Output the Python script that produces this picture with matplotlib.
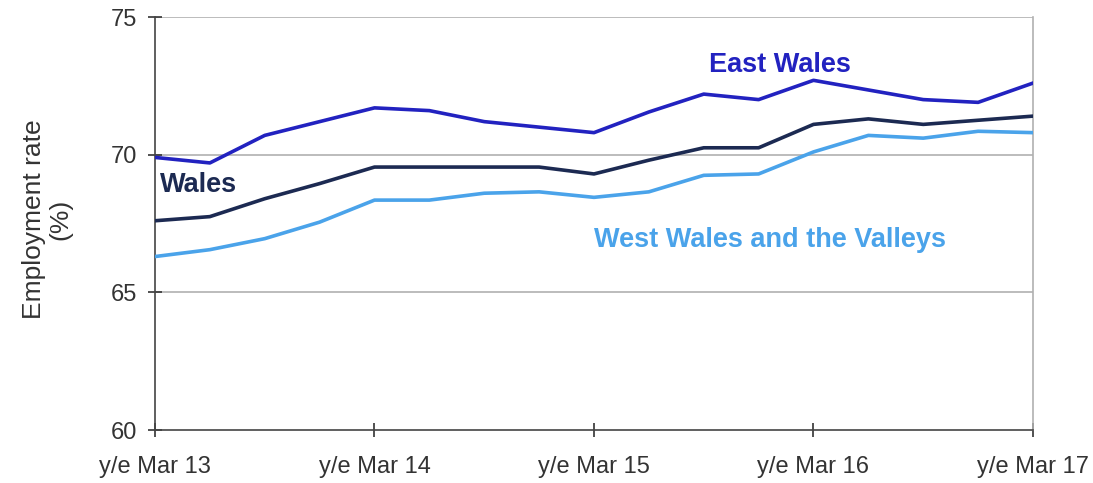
import matplotlib.pyplot as plt

# quarterly points, y/e Mar 13 .. y/e Mar 17
quarters = list(range(17))
tick_pos = [0, 4, 8, 12, 16]
tick_labels = ["y/e Mar 13", "y/e Mar 14", "y/e Mar 15", "y/e Mar 16", "y/e Mar 17"]

east_wales = [69.9, 69.7, 70.7, 71.2, 71.7, 71.6, 71.2, 71.0, 70.8,
              71.55, 72.2, 72.0, 72.7, 72.35, 72.0, 71.9, 72.6]
wales = [67.6, 67.75, 68.4, 68.95, 69.55, 69.55, 69.55, 69.55, 69.3,
         69.8, 70.25, 70.25, 71.1, 71.3, 71.1, 71.25, 71.4]
west_wales = [66.3, 66.55, 66.95, 67.55, 68.35, 68.35, 68.6, 68.65, 68.45,
              68.65, 69.25, 69.3, 70.1, 70.7, 70.6, 70.85, 70.8]

C_EAST = "#2222c0"
C_WALES = "#1c2a52"
C_WEST = "#4aa3ea"

plt.rcParams['font.family'] = ['Liberation Sans', 'DejaVu Sans']

fig = plt.figure(figsize=(10.93, 4.83), dpi=100)
ax = fig.add_axes([0.1418, 0.1097, 0.8033, 0.8551])

for y in [65, 70, 75]:
    ax.axhline(y, color="#b0b0b0", lw=1.2, zorder=1)

ax.plot(quarters, west_wales, color=C_WEST, lw=2.6, zorder=3)
ax.plot(quarters, wales, color=C_WALES, lw=2.6, zorder=3)
ax.plot(quarters, east_wales, color=C_EAST, lw=2.6, zorder=3)

ax.set_xlim(0, 16)
ax.set_ylim(60, 75)
ax.set_yticks([60, 65, 70, 75])
ax.set_xticks(tick_pos)
ax.set_xticklabels(tick_labels)
ax.tick_params(axis='both', labelsize=17, colors="#333333", length=9.5,
               width=1.2, direction="inout")
ax.tick_params(axis='x', pad=14)
ax.tick_params(axis='y', pad=8)

ax.spines["top"].set_visible(False)
ax.spines["right"].set_color("#b0b0b0")
ax.spines["right"].set_linewidth(1.2)
for s in ["left", "bottom"]:
    ax.spines[s].set_color("#444444")
    ax.spines[s].set_linewidth(1.2)

ax.set_ylabel("Employment rate\n(%)", fontsize=19, color="#333333", linespacing=1.15)
ax.yaxis.set_label_coords(-0.094, 0.51)

ax.text(10.1, 73.26, "East Wales", color=C_EAST, fontsize=19.5, fontweight="bold",
        ha="left", va="center")
ax.text(0.09, 68.9, "Wales", color=C_WALES, fontsize=19.5, fontweight="bold",
        ha="left", va="center")
ax.text(8.0, 66.9, "West Wales and the Valleys", color=C_WEST, fontsize=19.5,
        fontweight="bold", ha="left", va="center")

fig.savefig("out.png", dpi=100)
